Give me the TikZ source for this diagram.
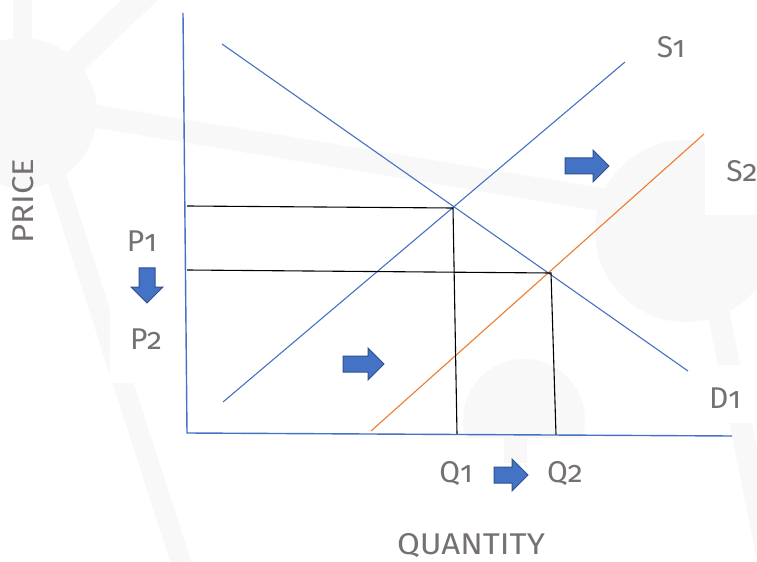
\documentclass[tikz,border=0pt]{standalone}
\usepackage{fontspec}
\setmainfont{Fira Sans}[Numbers=OldStyle]
\definecolor{lineblue}{HTML}{4472C4}
\definecolor{arrowedge}{HTML}{2F528F}
\definecolor{supplyorange}{HTML}{ED7D31}
\definecolor{labelgray}{HTML}{767171}
\definecolor{bgshade}{HTML}{F8F8F8}
\tikzset{
  axisline/.style={draw=lineblue, line width=1.4bp},
  curveblue/.style={draw=lineblue, line width=1.1bp},
  curveorange/.style={draw=supplyorange, line width=1.1bp},
  guide/.style={draw=black, line width=1.1bp},
  lbl/.style={text=labelgray, inner sep=0pt, font=\fontsize{30bp}{32bp}\selectfont},
  bgband/.style={draw=bgshade},
  blockarrowstyle/.style={fill=lineblue, draw=arrowedge, line width=1bp, line join=miter},
  pics/blockarr/.style={code={
    \path[blockarrowstyle] (0,-8) -- (#1-16,-8) -- (#1-16,-16) -- (#1,0)
      -- (#1-16,16) -- (#1-16,8) -- (0,8) -- cycle;}}
}
\begin{document}
\begin{tikzpicture}[x=1bp,y=-1bp]
\useasboundingbox (0,0) rectangle (757,562);
\fill[white] (0,0) rectangle (757,562);
% faint background pattern
\begin{scope}
\clip (0,0) rectangle (757,562);
\fill[bgshade] (22,113) circle[radius=75];
\fill[bgshade] (13,-5) rectangle (32,60);
\draw[bgband, line width=25bp] (40,95) -- (150,-10);
\draw[bgband, line width=23bp] (22,104) -- (640,206);
\draw[bgband, line width=20bp] (36,113) -- (185,575);
\fill[white] (110,220) rectangle (183,383);
\fill[bgshade] (686,231) circle[radius=91];
\draw[bgband, line width=22bp] (716,300) -- (770,570);
\fill[white] (705,125) rectangle (757,215);
\fill[white] (700,365) rectangle (757,423);
\fill[bgshade] (524,420) circle[radius=61];
\fill[white] (455,438) rectangle (600,505);
\fill[bgshade] (504,438) rectangle (527,463);
\end{scope}
% coordinates
\coordinate (ytop) at (183,13);
\coordinate (origin) at (187,433);
\coordinate (xend) at (732,436);
\coordinate (dstart) at (222,44);
\coordinate (dend) at (688,371);
\coordinate (s1start) at (223,402);
\coordinate (s1end) at (625,62);
\coordinate (s2start) at (371,431);
\coordinate (s2end) at (704,134);
\coordinate (p1axis) at (187,206);
\coordinate (e1) at (453,208);
\coordinate (q1axis) at (457,434);
\coordinate (p2axis) at (187,270);
\coordinate (e2) at (551,273);
\coordinate (q2axis) at (556,435);
% curves
\draw[curveblue] (dstart) -- (dend);
\draw[curveblue] (s1start) -- (s1end);
\draw[curveorange] (s2start) -- (s2end);
% guides
\draw[guide] (p1axis) -- (e1) -- (q1axis);
\draw[guide] (p2axis) -- (e2) -- (q2axis);
% axes
\draw[axisline] (ytop) -- (origin) -- (xend);
% block arrows
\pic at (147,268) [rotate=-90] {blockarr=35};
\pic at (343,364) {blockarr=41};
\pic at (565,166) {blockarr=44};
\pic at (494,475) {blockarr=34};
% labels
\node[lbl] (s1lbl) at (671,47) {S1};
\node[lbl] (s2lbl) at (742,171) {S2};
\node[lbl] (d1lbl) at (725,398) {D1};
\node[lbl] (p1lbl) at (142,241) {P1};
\node[lbl] (p2lbl) at (146,339) {P2};
\node[lbl] (q1lbl) at (456,474) {Q1};
\node[lbl] (q2lbl) at (565,474) {Q2};
\node[lbl, xscale=1.1] (qlbl) at (471,546) {QUANTITY};
\node[lbl, rotate=90, xscale=1.1] (plbl) at (23,201) {PRICE};
\end{tikzpicture}
\end{document}
